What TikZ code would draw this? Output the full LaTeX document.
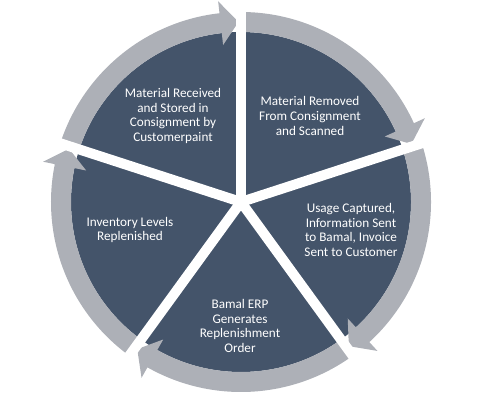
\documentclass[tikz,border=0pt]{standalone}
\usepackage{fontspec}
\setmainfont[Ligatures=NoCommon]{Carlito}
\definecolor{piecol}{HTML}{44546A}
\definecolor{ringcol}{HTML}{ADB0B7}
\tikzset{
  lbl/.style={text=white, align=center, font=\fontsize{13.2}{14.7}\selectfont, inner sep=0pt},
  gapline/.style={draw=white, line width=10pt},
  ringarrow/.style={fill=ringcol}
}
\begin{document}
\begin{tikzpicture}[x=1pt,y=1pt]
\useasboundingbox (-241,-200) rectangle (248,202);
\coordinate (c) at (0,0);
\fill[piecol] (c) circle[radius=170];
\foreach \a [evaluate=\a as \e using \a-65.5, evaluate=\a as \t using \a-71.2] in {90,18,-54,-126,162} {
  \path[ringarrow] (\a:190) arc[start angle=\a, end angle=\e, radius=190]
    -- (\e:202) -- (\t:180) -- (\e:158) -- (\e:170)
    arc[start angle=\e, end angle=\a, radius=170] -- cycle;
}
\foreach \a in {90,18,-54,-126,162} {
  \draw[gapline] (c) -- (\a:215);
}
\node[lbl] (t1) at (-68,86) {Material Received\\and Stored in\\Consignment by\\Customerpaint};
\node[lbl] (t2) at (69,86) {Material Removed\\From Consignment\\and Scanned};
\node[lbl] (t3) at (110,-28) {Usage Captured,\\Information Sent\\to Bamal, Invoice\\Sent to Customer};
\node[lbl] (t4) at (-1,-124) {Bamal ERP\\Generates\\Replenishment\\Order};
\node[lbl] (t5) at (-111,-28) {Inventory Levels\\Replenished};
\end{tikzpicture}
\end{document}
